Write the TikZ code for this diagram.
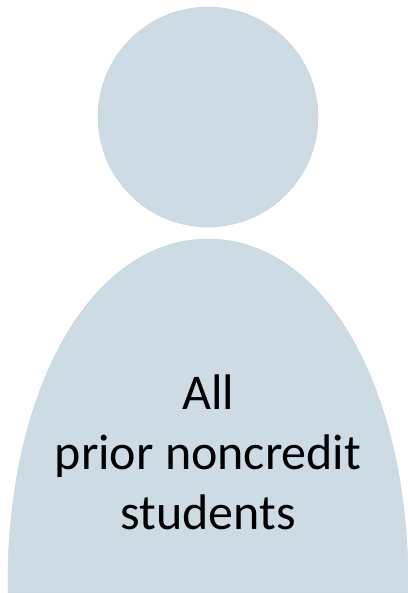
\documentclass[tikz,border=0pt]{standalone}
\usepackage{fontspec}
\setmainfont{Carlito}
\definecolor{fillc}{HTML}{CDDBE5}
\definecolor{edgec}{HTML}{C2CFD9}
\tikzset{personpart/.style={fill=fillc,draw=edgec,line width=0.3pt}}
\begin{document}
\begin{tikzpicture}[x=1pt,y=-1pt]
\useasboundingbox (0,0) rectangle (407,593);
\fill[white] (0,0) rectangle (407,593);
\node[personpart,circle,minimum size=220pt,inner sep=0pt] (head) at (208,117) {};
\draw[personpart] (8,593) -- (8,570) .. controls (12,380) and (95,239) .. (208,239) .. controls (321,239) and (404,380) .. (408,570) -- (408,593) -- cycle;
\node[align=center,font=\fontsize{50}{60}\selectfont,text=black] (label) at (208,452) {All\\prior noncredit\\students};
\end{tikzpicture}
\end{document}
